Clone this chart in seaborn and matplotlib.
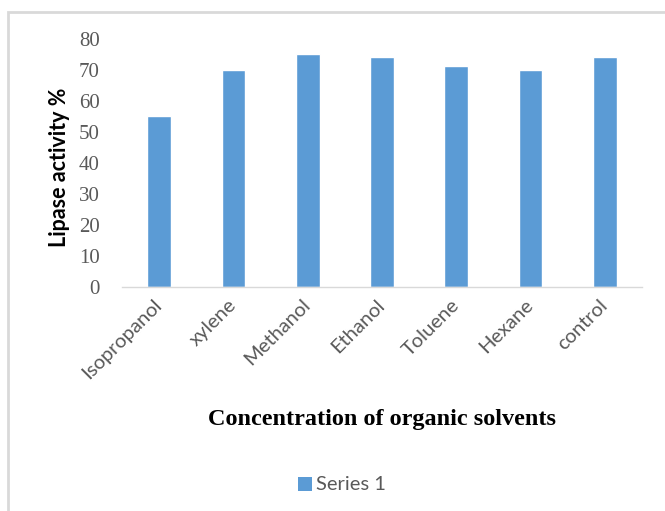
import matplotlib
matplotlib.use("Agg")
import matplotlib.pyplot as plt
from matplotlib.patches import Rectangle
import pandas as pd
import seaborn as sns

solvents = ["Isopropanol", "xylene", "Methanol", "Ethanol", "Toluene", "Hexane", "control"]
activity = [55, 70, 75, 74, 71, 70, 74]
y_ticks = [0, 10, 20, 30, 40, 50, 60, 70, 80]
series_name = "Series 1"

BAR = "#5B9BD5"
GRAY_TXT = "#595959"
SANS = ["Lato", "DejaVu Sans"]
SERIF = ["Liberation Serif", "DejaVu Serif"]

sns.set_theme(style="white")
plt.rcParams["font.family"] = SANS

df = pd.DataFrame({"solvent": solvents, "activity": activity})

W, H = 665, 511
fig = plt.figure(figsize=(W / 100, H / 100), dpi=100)
ax_l, ax_r, ax_t, ax_b = 122, 642, 38.5, 287
ax = fig.add_axes([ax_l / W, 1 - ax_b / H, (ax_r - ax_l) / W, (ax_b - ax_t) / H])

sns.barplot(data=df, x="solvent", y="activity", color=BAR, width=0.32,
            saturation=1, ax=ax)

ax.set_ylim(0, 80)
ax.set_yticks(y_ticks)
ax.set_yticklabels([str(t) for t in y_ticks], family=SERIF, fontsize=15, color=GRAY_TXT)
ax.tick_params(axis="y", length=0, pad=16)
ax.tick_params(axis="x", length=0, pad=11)
for lbl in ax.get_xticklabels():
    lbl.set_rotation(45)
    lbl.set_ha("right")
    lbl.set_va("center")
    lbl.set_rotation_mode("anchor")
    lbl.set_fontsize(14.5)
    lbl.set_color(GRAY_TXT)
    lbl.set_family(SANS)

for side in ["top", "right", "left"]:
    ax.spines[side].set_visible(False)
ax.spines["bottom"].set_color("#D9D9D9")
ax.spines["bottom"].set_linewidth(1.0)

ax.set_xlabel("")
ax.set_ylabel("")
fig.text(59 / W, 1 - 167 / H, "Lipase activity %", rotation=90, ha="center", va="center",
         fontsize=15.5, fontweight="bold", color="black", family=SANS)

fig.text(382 / W, 1 - 419 / H, "Concentration of organic solvents", ha="center", va="center",
         fontsize=17.5, fontweight="bold", family=SERIF, color="black")

fig.patches.append(Rectangle((298 / W, 1 - 491 / H), 14 / W, 14 / H, transform=fig.transFigure,
                             facecolor=BAR, edgecolor="none"))
fig.text(316 / W, 1 - 484 / H, series_name, ha="left", va="center", fontsize=14.5,
         color=GRAY_TXT, family=SANS)

# chart frame
fig.patches.append(Rectangle((8 / W, -0.05), 1.1, 1 - 12 / H + 0.05, transform=fig.transFigure,
                             facecolor="none", edgecolor="#D9D9D9", linewidth=2.0))

fig.savefig("out.png", dpi=100, facecolor="white")
